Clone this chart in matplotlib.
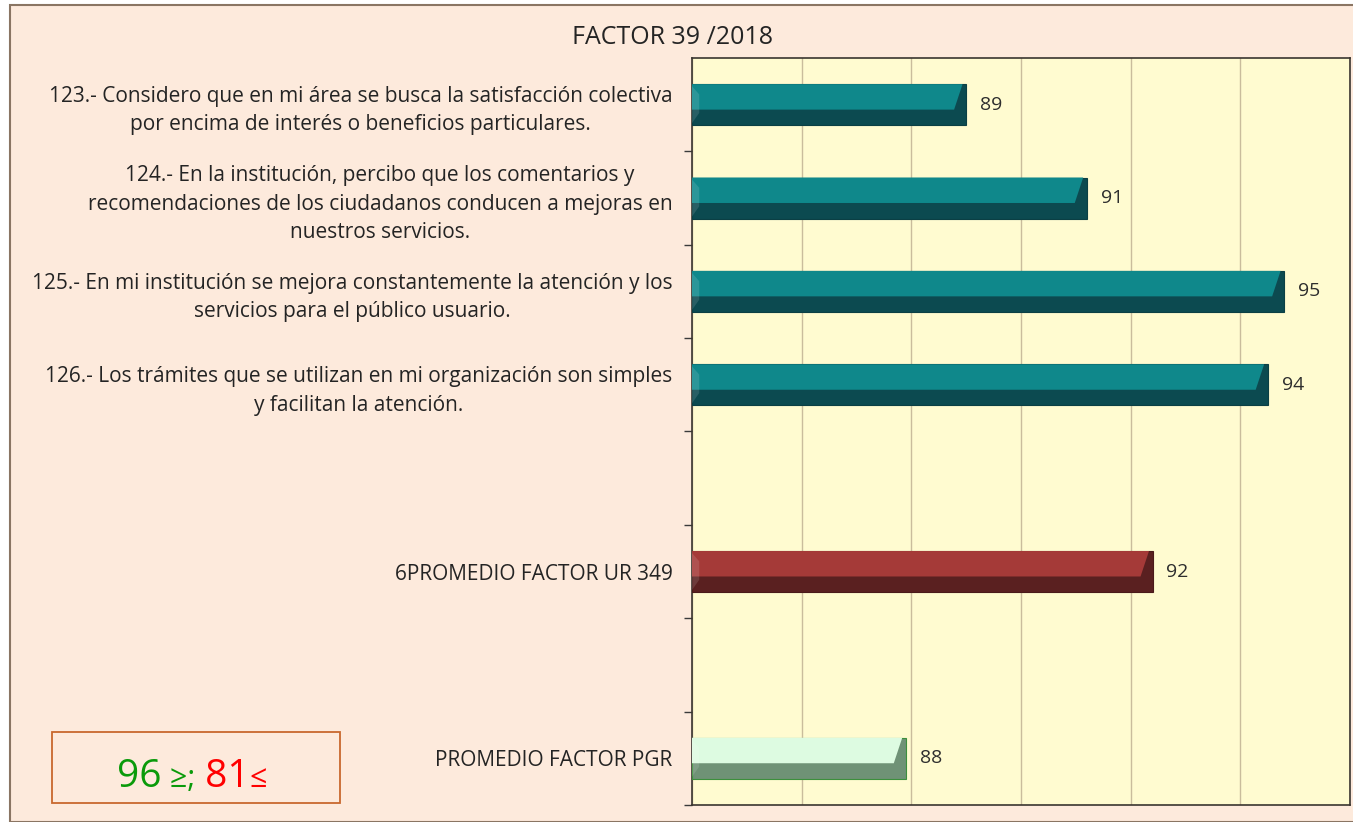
import numpy as np
import matplotlib.pyplot as plt
from matplotlib.patches import Rectangle

# datos del gráfico (orden de arriba hacia abajo; None = espacio vacío)
categorias = [
    "123.- Considero que en mi área se busca la satisfacción colectiva\npor encima de interés o beneficios particulares.",
    "124.- En la institución, percibo que los comentarios y\nrecomendaciones de los ciudadanos conducen a mejoras en\nnuestros servicios.",
    "125.- En mi institución se mejora constantemente la atención y los\nservicios para el público usuario.",
    "126.- Los trámites que se utilizan en mi organización son simples\ny facilitan la atención.",
    "",
    "6PROMEDIO FACTOR UR 349",
    "",
    "PROMEDIO FACTOR PGR",
]
valores = [89.0, 91.2, 94.8, 94.5, None, 92.4, None, 87.9]
etiquetas = ["89", "91", "95", "94", "", "92", "", "88"]
tipo = ["item", "item", "item", "item", None, "ur", None, "pgr"]

titulo = "FACTOR 39 /2018"
limite_alto = "96"
limite_bajo = "81"

# colores (claro, oscuro, borde) por tipo de barra
colores = {
    "item": ("#0F888B", "#0C4A50", "#0B3F44"),
    "ur": ("#A53A38", "#5A2020", "#4A1A1A"),
    "pgr": ("#DDFBE1", "#6F9276", "#3C8F3C"),
}

W, H = 1353, 822
fig = plt.figure(figsize=(W / 100, H / 100), dpi=100, facecolor="white")
plt.rcParams['font.family'] = ['Open Sans', 'DejaVu Sans']

# marco exterior
fig.patches.append(Rectangle((10 / W, 0), 1, 1 - 5 / H, transform=fig.transFigure,
                             facecolor="#FDEADC", edgecolor="#8A7563", lw=1.5, zorder=-10))

ax = fig.add_axes([692 / W, 17 / H, 658 / W, 747 / H])
ax.set_facecolor("#FFFBD0")

n = len(categorias)
xmin, xmax = 84, 96
ax.set_xlim(xmin, xmax)
ax.set_ylim(n - 0.5, -0.5)

h = 0.44
bx = 0.22   # ancho del bisel (unidades de x)
for i, (v, t, lab) in enumerate(zip(valores, tipo, etiquetas)):
    if v is None:
        continue
    claro, oscuro, borde = colores[t]
    top = i - h / 2
    # barra completa (parte oscura)
    ax.barh(i, v - xmin, left=xmin, height=h, color=oscuro, edgecolor=borde,
            linewidth=0.8, zorder=3)
    # parte clara superior, cortada en diagonal a la derecha
    ax.fill([xmin, v - bx * 0.3, v - bx, xmin],
            [top, top, top + 0.62 * h, top + 0.62 * h],
            color=claro, zorder=4, lw=0)
    # borde izquierdo claro
    ax.fill([xmin, xmin + bx * 0.6, xmin + bx * 0.6, xmin],
            [top + 0.05 * h, top + 0.25 * h, top + 0.7 * h, top + 0.95 * h],
            color="white", alpha=0.12, zorder=4, lw=0)
    ax.annotate(lab, (v, i), xytext=(10, 0), textcoords="offset points",
                va="center", ha="left", fontsize=14, color="#2E2E2E", zorder=5)

# rejilla vertical
ax.set_xticks(np.arange(xmin, xmax + 1, 2))
ax.xaxis.grid(True, color="#C9BC9C", lw=1)
ax.set_axisbelow(True)
ax.tick_params(axis="x", length=0, labelbottom=False)

# etiquetas de categorías
ax.set_yticks(range(n))
ax.set_yticklabels(categorias, multialignment="center", fontsize=15,
                   color="#242424", linespacing=1.45)
ax.tick_params(axis="y", which="major", length=0, pad=14)
ax.set_yticks(np.arange(n) + 0.5, minor=True)
ax.tick_params(axis="y", which="minor", length=6, width=1, color="#3A3A3A", direction="out")

for s in ax.spines.values():
    s.set_color("#3A3530")
    s.set_linewidth(1.2)

fig.text(672 / W, 1 - 37 / H, titulo, ha="center", va="center", fontsize=18, color="#242424")

# recuadro de límites
fig.patches.append(Rectangle((52 / W, 1 - 803 / H), 288 / W, 71 / H, transform=fig.transFigure,
                             facecolor="none", edgecolor="#C8682E", lw=1.3))
fig.canvas.draw()
r = fig.canvas.get_renderer()
piezas = [(limite_alto, "#0A9A0A", 28), (" ≥;", "#0A9A0A", 22), (" " + limite_bajo, "#FF0000", 28),
          ("≤", "#FF0000", 22)]
x = 117
yb = 1 - 787 / H
for txt, col, fs in piezas:
    tt = fig.text(x / W, yb, txt, color=col, fontsize=fs, ha="left", va="baseline")
    x += tt.get_window_extent(r).width

fig.savefig("out.png", dpi=100, facecolor=fig.get_facecolor())
